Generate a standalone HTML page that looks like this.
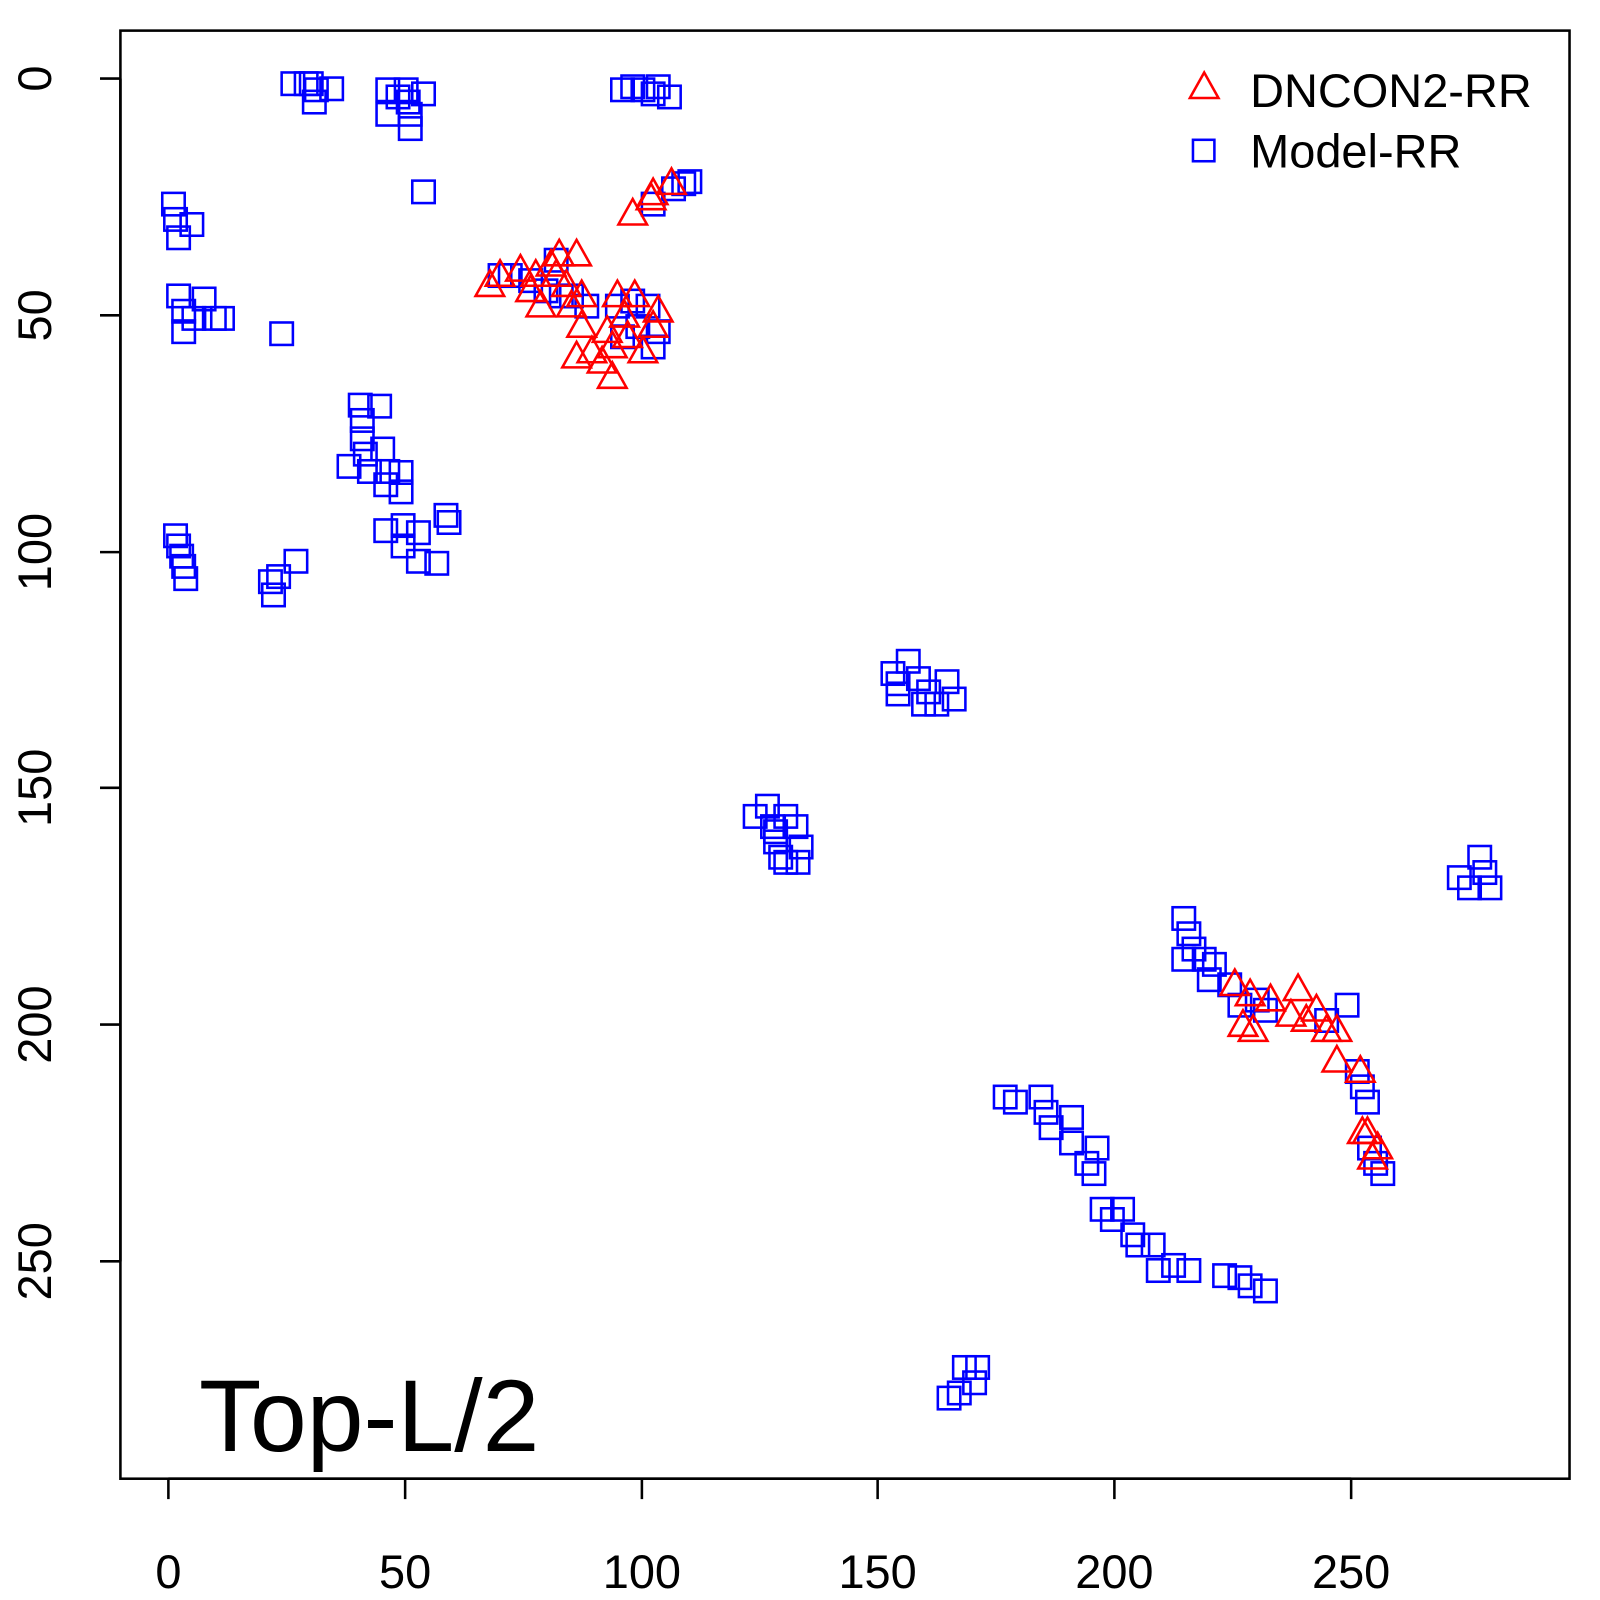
<!DOCTYPE html>
<html><head><meta charset="utf-8"><style>body{margin:0;background:#fff}svg{display:block}</style></head>
<body>
<svg id="s" width="1600" height="1600" viewBox="0 0 1600 1600" xmlns="http://www.w3.org/2000/svg" font-family="Liberation Sans, sans-serif">
<g transform="scale(1.0205)">
<rect x="118" y="30" width="1420" height="1419" fill="none" stroke="#000" stroke-width="2.5"/>
<g stroke="#000" stroke-width="2.5">
<line x1="165" y1="1449" x2="1324" y2="1449"/>
<line x1="165" y1="1449" x2="165" y2="1469"/><line x1="397" y1="1449" x2="397" y2="1469"/><line x1="629" y1="1449" x2="629" y2="1469"/><line x1="860" y1="1449" x2="860" y2="1469"/><line x1="1092" y1="1449" x2="1092" y2="1469"/><line x1="1324" y1="1449" x2="1324" y2="1469"/>
<line x1="118" y1="77" x2="118" y2="1236"/>
<line x1="98" y1="77" x2="118" y2="77"/><line x1="98" y1="309" x2="118" y2="309"/><line x1="98" y1="541" x2="118" y2="541"/><line x1="98" y1="772" x2="118" y2="772"/><line x1="98" y1="1004" x2="118" y2="1004"/><line x1="98" y1="1236" x2="118" y2="1236"/>
</g>
<g font-size="46" text-anchor="middle">
<text x="165" y="1556">0</text><text x="397" y="1556">50</text><text x="629" y="1556">100</text><text x="860" y="1556">150</text><text x="1092" y="1556">200</text><text x="1324" y="1556">250</text>
<text transform="translate(50,77) rotate(-90)">0</text><text transform="translate(50,309) rotate(-90)">50</text><text transform="translate(50,541) rotate(-90)">100</text><text transform="translate(50,772) rotate(-90)">150</text><text transform="translate(50,1004) rotate(-90)">200</text><text transform="translate(50,1236) rotate(-90)">250</text>
</g>
<g id="pts" fill="none" stroke-width="2.5"></g>
<polygon points="1180,71 1194,96 1166,96" fill="none" stroke="#f00" stroke-width="2.5"/>
<rect x="1169" y="137" width="21" height="21" fill="none" stroke="#00f" stroke-width="2.5"/>
<text x="1225" y="105" font-size="46">DNCON2-RR</text>
<text x="1225" y="164" font-size="46">Model-RR</text>
<text x="195" y="1422" font-size="100">Top-L/2</text>
</g>
</svg>
<script>
var B=[[287,82],[300,82],[310,88],[305,82],[325,87],[308,100],[380,88],[390,95],[380,112],[398,88],[400,100],[402,112],[402,126],[415,92],[415,188],[610,88],[620,85],[630,88],[640,92],[656,95],[645,85],[670,180],[676,178],[660,185],[640,200],[170,200],[172,215],[175,233],[188,220],[175,290],[180,305],[180,325],[200,293],[210,312],[218,312],[190,312],[276,327],[353,397],[355,412],[372,398],[355,430],[358,445],[375,440],[342,457],[362,462],[380,462],[393,463],[378,475],[393,482],[378,520],[395,515],[395,535],[410,522],[410,550],[428,552],[437,505],[440,512],[172,525],[175,535],[178,545],[180,555],[182,567],[265,570],[268,583],[273,565],[290,550],[490,270],[500,270],[545,255],[550,290],[620,295],[640,340],[635,300],[520,275],[535,285],[560,290],[575,300],[625,320],[610,330],[645,325],[605,300],[875,660],[880,670],[890,648],[900,665],[910,678],[918,690],[928,668],[935,685],[880,680],[905,690],[740,800],[752,790],[757,810],[760,825],[765,840],[770,800],[780,810],[785,830],[770,845],[782,845],[760,815],[1450,840],[1455,855],[1430,860],[1440,870],[1460,870],[1160,900],[1165,915],[1170,930],[1160,940],[1180,940],[1190,945],[1185,960],[1205,965],[1215,985],[1232,980],[1240,990],[1320,985],[1300,1000],[1330,1050],[1335,1065],[1340,1080],[1342,1125],[1348,1140],[1355,1150],[985,1075],[995,1080],[1020,1075],[1025,1090],[1030,1105],[1050,1095],[1050,1120],[1065,1140],[1075,1125],[1072,1150],[1080,1185],[1090,1195],[1100,1185],[1110,1210],[1115,1220],[1130,1220],[1135,1245],[1150,1240],[1165,1245],[1200,1250],[1215,1252],[1225,1260],[1240,1265],[945,1340],[955,1355],[958,1340],[940,1365],[930,1370]];
var R=[[480,280],[490,270],[510,265],[525,270],[530,300],[540,260],[548,250],[555,280],[565,250],[570,290],[570,320],[565,350],[580,345],[590,355],[600,370],[600,340],[605,290],[612,310],[622,290],[630,345],[640,320],[645,305],[620,210],[638,195],[658,180],[640,190],[520,285],[545,270],[560,300],[595,325],[615,330],[1210,965],[1218,1005],[1228,1010],[1225,975],[1245,980],[1272,970],[1280,1000],[1290,990],[1300,1010],[1310,1010],[1310,1040],[1333,1050],[1335,1110],[1340,1110],[1350,1125],[1345,1135],[1265,995]];
var h='';
B.forEach(function(p){h+='<rect x="'+(p[0]-11)+'" y="'+(p[1]-11)+'" width="22" height="22" stroke="#00f"/>';});
R.forEach(function(p){h+='<polygon points="'+p[0]+','+(p[1]-15)+' '+(p[0]+14)+','+(p[1]+10)+' '+(p[0]-14)+','+(p[1]+10)+'" stroke="#f00"/>';});
document.getElementById('pts').innerHTML=h;
</script>
</body></html>
